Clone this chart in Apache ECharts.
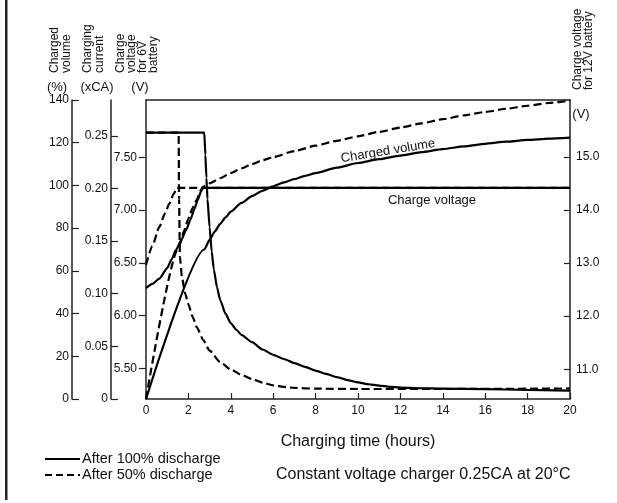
<!DOCTYPE html>
<html>
<head>
<meta charset="utf-8" />
<script src="https://cdn.jsdelivr.net/npm/echarts@6/dist/echarts.min.js"></script>
<style>
  html, body { margin: 0; padding: 0; background: #fff; }
  #chart { width: 617px; height: 503px; }
</style>
</head>
<body>
<div id="chart"></div>
<script>
// charged volume (%)
const volTime100 = [0, 2.75, 3.0, 3.25, 3.5, 3.75, 4.0, 4.5, 5.0, 5.5, 6, 6.5, 7, 7.5, 8, 9, 10, 11, 12, 13, 14, 15, 16, 17, 18, 19, 20];
const volPct100 = [0, 70, 74.5, 78.5, 82, 85, 87.7, 91.8, 95, 97.5, 99.6, 101.4, 103, 104.5, 105.8, 108.3, 110.5, 112.3, 114, 115.6, 117, 118.3, 119.5, 120.5, 121.3, 121.9, 122.4];
const volTime50 = [0, 1.5, 1.6, 1.8, 2.0, 2.2, 2.4, 2.6, 2.7, 3.0, 3.5, 4.0, 4.5, 5, 5.5, 6, 7, 8, 9, 10, 11, 12, 13, 14, 15, 16, 17, 18, 19, 20];
const volPct50 = [0, 70, 72.5, 79, 84.5, 89.5, 93.5, 98, 99.5, 101, 103.4, 105.8, 108, 110, 111.8, 113.3, 116.1, 118.6, 120.9, 123, 125.1, 127.1, 129.1, 131, 132.8, 134.4, 135.9, 137.3, 138.6, 139.7];

// charging current (xCA)
const curTime100 = [0, 2.75, 2.8, 2.85, 2.9, 3.0, 3.1, 3.2, 3.35, 3.5, 3.75, 4.0, 4.25, 4.5, 5.0, 5.5, 6, 6.5, 7, 7.5, 8, 8.5, 9, 9.5, 10, 10.5, 11, 11.5, 12, 13, 14, 16, 18, 20];
const curCA100 = [0.253, 0.253, 0.232, 0.21, 0.19, 0.163, 0.14, 0.123, 0.106, 0.094, 0.081, 0.072, 0.066, 0.061, 0.054, 0.047, 0.042, 0.038, 0.034, 0.0305, 0.027, 0.0238, 0.0208, 0.018, 0.0158, 0.014, 0.0127, 0.0116, 0.0108, 0.0102, 0.0098, 0.0093, 0.0087, 0.008];
const curTime50 = [0, 1.54, 1.56, 1.6, 1.7, 1.85, 2.0, 2.2, 2.4, 2.7, 3.0, 3.5, 4.0, 4.5, 5.0, 5.5, 6.0, 6.5, 7.0, 8.0, 10, 14, 20];
const curCA50 = [0.253, 0.253, 0.19, 0.135, 0.115, 0.1, 0.09, 0.078, 0.068, 0.056, 0.046, 0.035, 0.028, 0.023, 0.019, 0.0155, 0.013, 0.0115, 0.0105, 0.0098, 0.0095, 0.0095, 0.01];

// charge voltage, 6V battery (V)
const voltTime100 = [0, 0.3, 0.63, 1.0, 1.2, 1.41, 1.65, 1.89, 2.1, 2.28, 2.45, 2.6, 2.68, 20];
const volt100 = [6.26, 6.3, 6.35, 6.45, 6.53, 6.62, 6.71, 6.81, 6.91, 7.01, 7.1, 7.18, 7.21, 7.21];
const voltTime50 = [0, 0.3, 0.63, 0.9, 1.1, 1.3, 1.45, 20];
const volt50 = [6.48, 6.66, 6.84, 6.97, 7.06, 7.15, 7.21, 7.21];

// tick labels
const hourTicks = [0, 2, 4, 6, 8, 10, 12, 14, 16, 18, 20];
const currentTicks = [0, 0.05, 0.1, 0.15, 0.2, 0.25];
const volt6Ticks = [5.5, 6.0, 6.5, 7.0, 7.5];
const volt12Ticks = [11, 12, 13, 14, 15];

const FONT = "Liberation Sans, Arial, sans-serif";
const INK = "#111";

const zip = (xs, ys) => xs.map((x, i) => [x, ys[i]]);

const tickStyle = { color: "#222", width: 1.2 };

const axisBase = (extra) => ({
  type: "value",
  splitLine: { show: false },
  axisLine: { show: true, onZero: false, lineStyle: { color: "#222", width: 1.5 } },
  axisTick: { show: true, lineStyle: tickStyle },
  axisLabel: { color: INK, fontSize: 12, fontFamily: FONT },
  ...extra,
});

const line = (data, yIdx, dashed) => ({
  type: "line",
  data,
  yAxisIndex: yIdx,
  symbol: "none",
  smooth: 0.2,
  smoothMonotone: "x",
  z: dashed ? 2 : 3,
  lineStyle: { color: "#000", width: 2.2, type: dashed ? [8, 4] : "solid" },
});

const chart = echarts.init(document.getElementById("chart"), null, { renderer: "canvas" });

chart.setOption({
  animation: false,
  backgroundColor: "#fff",
  grid: { left: 146, right: 47, top: 100, bottom: 104 },
  xAxis: [
    axisBase({
      min: 0,
      max: 20,
      interval: 2,
      axisTick: { show: true, inside: true, length: 6, lineStyle: tickStyle },
      axisLabel: { color: INK, fontSize: 12, fontFamily: FONT, margin: 6, customValues: hourTicks },
      name: "Charging time (hours)",
      nameLocation: "middle",
      nameGap: 35,
      nameTextStyle: { color: INK, fontSize: 16, fontFamily: FONT },
    }),
    axisBase({
      position: "top",
      min: 0,
      max: 20,
      axisTick: { show: false },
      axisLabel: { show: false },
    }),
  ],
  yAxis: [
    axisBase({
      position: "left",
      offset: 74,
      min: 0,
      max: 140,
      interval: 20,
      axisTick: { show: true, inside: true, length: 7, lineStyle: tickStyle },
      axisLabel: { color: INK, fontSize: 12, fontFamily: FONT, margin: 3 },
    }),
    axisBase({
      position: "left",
      offset: 35,
      min: 0,
      max: 0.284,
      axisTick: { show: true, inside: true, length: 7, customValues: currentTicks, lineStyle: tickStyle },
      axisLabel: {
        color: INK, fontSize: 12, fontFamily: FONT, margin: 3,
        customValues: currentTicks,
        formatter: (v) => (v === 0 ? "0" : v.toFixed(2)),
      },
    }),
    axisBase({
      position: "left",
      offset: 0,
      min: 5.209,
      max: 8.043,
      axisTick: { show: true, inside: false, length: 7, customValues: volt6Ticks, lineStyle: tickStyle },
      axisLabel: {
        color: INK, fontSize: 12, fontFamily: FONT, margin: 9,
        customValues: volt6Ticks,
        formatter: (v) => v.toFixed(2),
      },
    }),
    axisBase({
      position: "right",
      offset: 0,
      min: 10.44,
      max: 16.07,
      axisTick: { show: true, inside: true, length: 6, customValues: volt12Ticks, lineStyle: tickStyle },
      axisLabel: {
        color: INK, fontSize: 12, fontFamily: FONT, margin: 6,
        customValues: volt12Ticks,
        formatter: (v) => v.toFixed(1),
      },
    }),
  ],
  series: [
    line(zip(volTime50, volPct50), 0, true),
    line(zip(curTime50, curCA50), 1, true),
    line(zip(voltTime50, volt50), 2, true),
    line(zip(volTime100, volPct100), 0, false),
    line(zip(curTime100, curCA100), 1, false),
    line(zip(voltTime100, volt100), 2, false),
  ],
  graphic: [
    // left frame edge
    { type: "rect", shape: { x: 5, y: 0, width: 2.5, height: 500 }, style: { fill: "#222" } },
    // axis headers
    { type: "text", x: 49, y: 73, rotation: Math.PI / 2,
      style: { text: "Charged\nvolume", font: "12px " + FONT, lineHeight: 12, fill: INK, align: "left", verticalAlign: "top" } },
    { type: "text", x: 82, y: 73, rotation: Math.PI / 2,
      style: { text: "Charging\ncurrent", font: "12px " + FONT, lineHeight: 12, fill: INK, align: "left", verticalAlign: "top" } },
    { type: "text", x: 115, y: 73, rotation: Math.PI / 2,
      style: { text: "Charge\nvoltage\nfor 6V\nbattery", font: "12px " + FONT, lineHeight: 11, fill: INK, align: "left", verticalAlign: "top" } },
    { type: "text", x: 572, y: 90, rotation: Math.PI / 2,
      style: { text: "Charge voltage\nfor 12V battery", font: "12px " + FONT, lineHeight: 11, fill: INK, align: "left", verticalAlign: "top" } },
    { type: "text", x: 57, y: 87, style: { text: "(%)", font: "13px " + FONT, fill: INK, align: "center", verticalAlign: "middle" } },
    { type: "text", x: 97, y: 87, style: { text: "(xCA)", font: "13px " + FONT, fill: INK, align: "center", verticalAlign: "middle" } },
    { type: "text", x: 140, y: 87, style: { text: "(V)", font: "13px " + FONT, fill: INK, align: "center", verticalAlign: "middle" } },
    { type: "text", x: 581, y: 114, style: { text: "(V)", font: "13px " + FONT, fill: INK, align: "center", verticalAlign: "middle" } },
    // curve labels
    { type: "text", x: 388, y: 151, rotation: 0.16,
      style: { text: "Charged volume", font: "13px " + FONT, fill: INK, align: "center", verticalAlign: "middle" } },
    { type: "text", x: 432, y: 200,
      style: { text: "Charge voltage", font: "13px " + FONT, fill: INK, align: "center", verticalAlign: "middle" } },
    // legend
    { type: "line", shape: { x1: 45, y1: 459, x2: 80, y2: 459 }, style: { stroke: "#000", lineWidth: 2.2 } },
    { type: "line", shape: { x1: 45, y1: 475, x2: 80, y2: 475 }, style: { stroke: "#000", lineWidth: 2.2, lineDash: [7, 4] } },
    { type: "text", x: 82, y: 459, style: { text: "After 100% discharge", font: "14.5px " + FONT, fill: INK, align: "left", verticalAlign: "middle" } },
    { type: "text", x: 82, y: 475, style: { text: "After 50% discharge", font: "14.5px " + FONT, fill: INK, align: "left", verticalAlign: "middle" } },
    { type: "text", x: 276, y: 475, style: { text: "Constant voltage charger 0.25CA at 20°C", font: "16px " + FONT, fill: INK, align: "left", verticalAlign: "middle" } },
  ],
});
</script>
</body>
</html>
